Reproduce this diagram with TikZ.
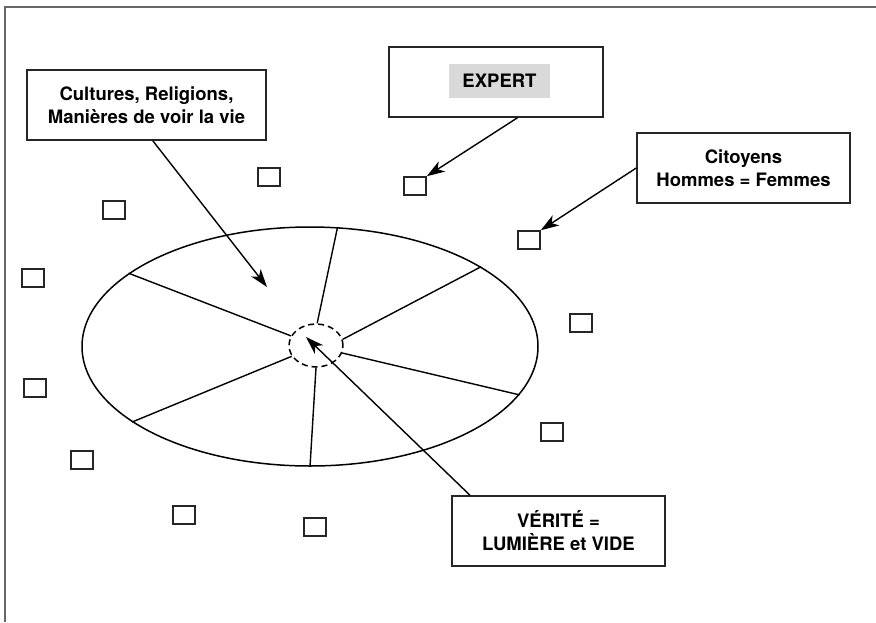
\documentclass[tikz,border=0pt]{standalone}
\usepackage{fontspec}
\setmainfont{TeX Gyre Heros}
\usetikzlibrary{arrows.meta,shapes.geometric}

\tikzset{
	box/.style={shape=rectangle, draw=black!85, line width=1.5pt, minimum width=213pt, minimum height=70pt, align=center, font=\bfseries\fontsize{18.5}{23}\selectfont},
	seat/.style={shape=rectangle, draw=black!85, line width=1.5pt, minimum width=22pt, minimum height=18pt, inner sep=0pt},
	pointer/.style={-{Stealth[length=18pt,width=12pt,inset=5pt]}, line width=1.4pt},
}

\begin{document}
\begin{tikzpicture}[x=1pt, y=-1pt]
	\useasboundingbox (0,0) rectangle (876,622);
	\draw[line width=1.5pt, black!60] (876,7) -- (5,7) -- (5,622);

	\node[box, minimum width=239pt] (cult) at (146.5,105) {Cultures, Religions,\\Manières de voir la vie};
	\node[box, minimum width=214pt] (expbox) at (496,82) {};
	\node[fill=black!15, minimum width=101pt, minimum height=34pt, font=\bfseries\fontsize{18.5}{23}\selectfont] (exp) at (499.5,81) {EXPERT};
	\node[box] (cit) at (743.5,168) {Citoyens\\Hommes = Femmes};
	\node[box] (ver) at (558.5,531) {VÉRITÉ =\\LUMIÈRE et VIDE};

	\node[shape=ellipse, draw, line width=1.5pt, minimum width=456pt, minimum height=239pt, inner sep=0pt] (wheel) at (310,346.5) {};
	\node[shape=ellipse, draw, dashed, dash pattern=on 6pt off 4pt, line width=1.5pt, minimum width=54pt, minimum height=43pt, inner sep=0pt] (core) at (316,345.5) {};
	\coordinate (aim1) at (267,287);
	\coordinate (aim2) at (306,337);

	\foreach \a/\b in {158.8/159.4, 77.8/87, 25.5/13, -13.6/-16.5, -90/-90, 203.5/204.6}
		\path [-, line width=1.4pt] (core.\b) edge (wheel.\a);

	\foreach \n/\x/\y in {1/269/177, 2/114/210, 3/33/278, 4/35/388, 5/82/460, 6/184/515, 7/315/527, 8/415/186, 9/529/240, 10/581/323, 11/552/432}
		\node[seat] (s\n) at (\x,\y) {};

	\path [pointer] (cult.-80) edge (aim1);
	\path [pointer] (expbox.-59) edge (s8.north east);
	\path [pointer] (cit.west) edge (s9.north east);
	\path [pointer] (ver.158) edge (aim2);
\end{tikzpicture}
\end{document}
